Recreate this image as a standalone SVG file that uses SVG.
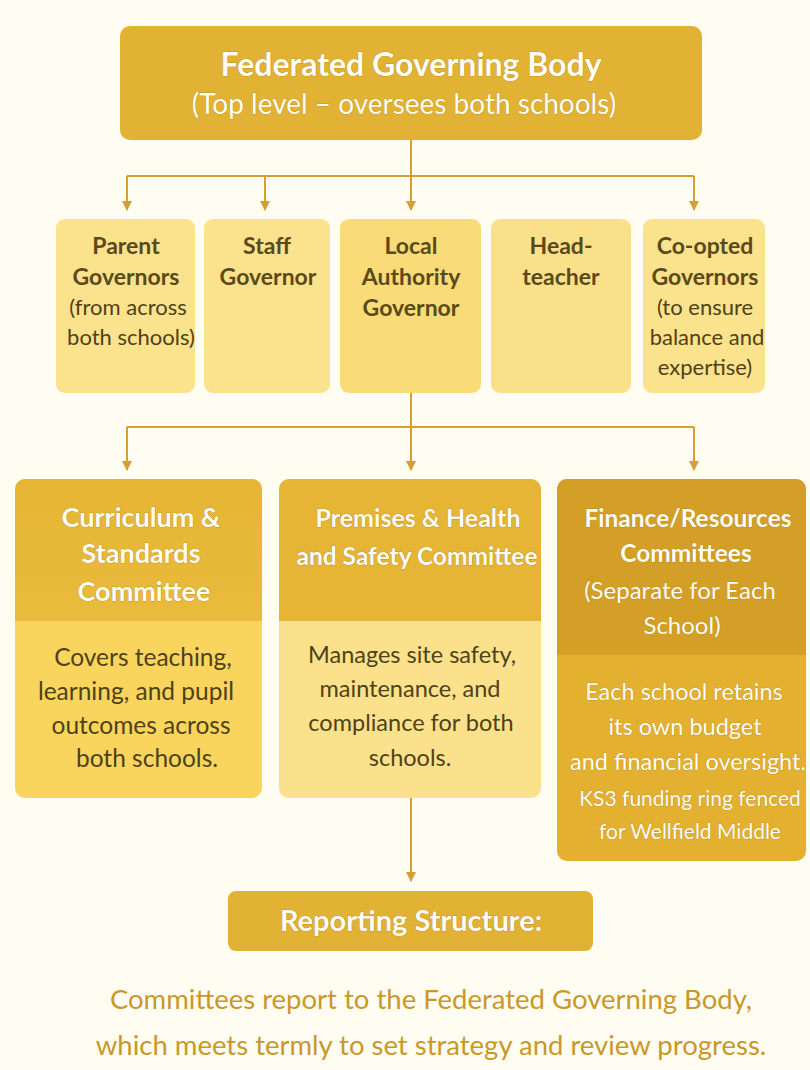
<svg xmlns="http://www.w3.org/2000/svg" width="810" height="1070" viewBox="0 0 810 1070">
<defs>
<style>
.t{font-family:Lato,"Open Sans","Liberation Sans",sans-serif;text-anchor:middle}
.w{fill:#fffdf5;font-weight:700;stroke:#a77c16;stroke-width:0.6;paint-order:stroke}
.wr{fill:#fffdf5;font-weight:400;stroke:#a77c16;stroke-width:0.5;paint-order:stroke}
.d{fill:#4f4118;font-weight:400}
.db{fill:#5a4a1a;font-weight:700}
.conn{fill:none;stroke:#d4a035;stroke-width:2}
</style>
<marker id="ah" viewBox="0 0 10 10" refX="9" refY="5" markerWidth="5" markerHeight="5" orient="auto">
<path d="M0,0 L10,5 L0,10 z" fill="#d4a035"/>
</marker>
<linearGradient id="hd" x1="0" y1="0" x2="0" y2="1"><stop offset="0" stop-color="#e6b534"/><stop offset="1" stop-color="#e9bb3c"/></linearGradient>
</defs>
<rect width="810" height="1070" fill="#fffdf2"/>

<g id="connectors">
<path class="conn" d="M411,140 V176 M127,176 H694"/>
<path class="conn" d="M127,176 V210" marker-end="url(#ah)"/>
<path class="conn" d="M265,176 V210" marker-end="url(#ah)"/>
<path class="conn" d="M411,176 V210" marker-end="url(#ah)"/>
<path class="conn" d="M694,176 V210" marker-end="url(#ah)"/>
<path class="conn" d="M411,393 V427 M127,427 H694"/>
<path class="conn" d="M127,427 V470" marker-end="url(#ah)"/>
<path class="conn" d="M411,427 V470" marker-end="url(#ah)"/>
<path class="conn" d="M694,427 V470" marker-end="url(#ah)"/>
<path class="conn" d="M411,798 V881" marker-end="url(#ah)"/>
</g>

<g id="fgb">
<rect x="120" y="26" width="582" height="114" rx="10" fill="#e2b234"/>
<text class="t w" x="411" y="76" font-size="32">Federated Governing Body</text>
<text class="t wr" x="404" y="114" font-size="28">(Top level – oversees both schools)</text>
</g>

<g id="parent">
<rect x="56" y="219" width="139" height="174" rx="9" fill="#fbe28d"/>
<text class="t db" x="126" y="254" font-size="23">Parent</text>
<text class="t db" x="126" y="285" font-size="23">Governors</text>
<text class="t d" x="128" y="315" font-size="22">(from across</text>
<text class="t d" x="131" y="345" font-size="22">both schools)</text>
</g>
<g id="staff">
<rect x="204" y="219" width="126" height="174" rx="9" fill="#fbe28d"/>
<text class="t db" x="267" y="254" font-size="23">Staff</text>
<text class="t db" x="268" y="285" font-size="23">Governor</text>
</g>
<g id="local">
<rect x="340" y="219" width="141" height="174" rx="9" fill="#f9dc78"/>
<text class="t db" x="411" y="254" font-size="23">Local</text>
<text class="t db" x="411" y="285" font-size="23">Authority</text>
<text class="t db" x="411" y="316" font-size="23">Governor</text>
</g>
<g id="head">
<rect x="491" y="219" width="140" height="174" rx="9" fill="#fbe08a"/>
<text class="t db" x="561" y="254" font-size="23">Head-</text>
<text class="t db" x="561" y="285" font-size="23">teacher</text>
</g>
<g id="coopted">
<rect x="643" y="219" width="122" height="174" rx="9" fill="#fbe28d"/>
<text class="t db" x="705" y="254" font-size="23">Co-opted</text>
<text class="t db" x="705" y="285" font-size="23">Governors</text>
<text class="t d" x="705" y="315" font-size="22">(to ensure</text>
<text class="t d" x="707" y="345" font-size="22">balance and</text>
<text class="t d" x="705" y="375" font-size="22">expertise)</text>
</g>

<g id="curriculum">
<rect x="15" y="479" width="247" height="319" rx="10" fill="#f9d55e"/>
<path d="M15,621 V489 A10,10 0 0 1 25,479 H252 A10,10 0 0 1 262,489 V621 Z" fill="url(#hd)"/>
<text class="t w" x="141" y="527" font-size="27">Curriculum &amp;</text>
<text class="t w" x="141" y="563" font-size="27">Standards</text>
<text class="t w" x="144" y="601" font-size="27">Committee</text>
<text class="t d" x="143" y="666" font-size="24.5">Covers teaching,</text>
<text class="t d" x="136" y="700" font-size="24.5">learning, and pupil</text>
<text class="t d" x="141" y="734" font-size="24.5">outcomes across</text>
<text class="t d" x="147" y="767" font-size="24.5">both schools.</text>
</g>

<g id="premises">
<rect x="279" y="479" width="262" height="319" rx="10" fill="#fbe18b"/>
<path d="M279,621 V489 A10,10 0 0 1 289,479 H531 A10,10 0 0 1 541,489 V621 Z" fill="#e6b535"/>
<text class="t w" x="418" y="527" font-size="25">Premises &amp; Health</text>
<text class="t w" x="417" y="565" font-size="24.5">and Safety Committee</text>
<text class="t d" x="412" y="663" font-size="23.5">Manages site safety,</text>
<text class="t d" x="410" y="697" font-size="23.5">maintenance, and</text>
<text class="t d" x="411" y="731" font-size="23.5">compliance for both</text>
<text class="t d" x="410" y="766" font-size="23.5">schools.</text>
</g>

<g id="finance">
<rect x="557" y="479" width="249" height="382" rx="10" fill="#e3b02f"/>
<path d="M557,655 V489 A10,10 0 0 1 567,479 H796 A10,10 0 0 1 806,489 V655 Z" fill="#d49f26"/>
<text class="t w" x="688" y="527" font-size="24.5">Finance/Resources</text>
<text class="t w" x="686" y="562" font-size="24.5">Committees</text>
<text class="t wr" x="680" y="599" font-size="24">(Separate for Each</text>
<text class="t wr" x="682" y="634" font-size="24">School)</text>
<text class="t wr" x="684" y="700" font-size="23.5">Each school retains</text>
<text class="t wr" x="685" y="735" font-size="23.5">its own budget</text>
<text class="t wr" x="688" y="770" font-size="23.5">and financial oversight.</text>
<text class="t wr" x="690" y="806" font-size="21">KS3 funding ring fenced</text>
<text class="t wr" x="690" y="839" font-size="21">for Wellfield Middle</text>
</g>

<g id="reporting">
<rect x="228" y="891" width="365" height="60" rx="8" fill="#e2b234"/>
<text class="t w" x="411" y="931" font-size="29">Reporting Structure:</text>
</g>

<g id="note">
<text class="t" x="431" y="1009" font-size="27.5" fill="#c9982a">Committees report to the Federated Governing Body,</text>
<text class="t" x="431" y="1055" font-size="27.5" fill="#c9982a">which meets termly to set strategy and review progress.</text>
</g>
</svg>
